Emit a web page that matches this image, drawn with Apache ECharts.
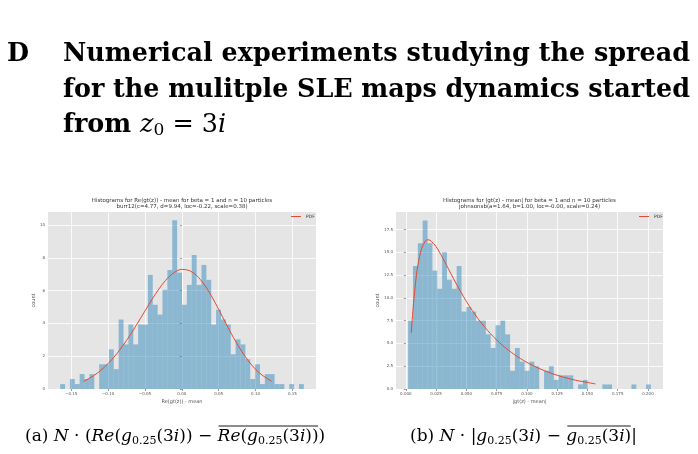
<!DOCTYPE html>
<html><head><meta charset="utf-8">
<script src="https://cdn.jsdelivr.net/npm/echarts@6/dist/echarts.min.js"></script>
<style>html,body{margin:0;padding:0;background:#fff}#c{width:698px;height:454px}</style>
</head><body><div id="c"></div>
<script>
// ---------- data ----------
const headingLetter = 'D';
const headingLines = ['Numerical experiments studying the spread', 'for the mulitple SLE maps dynamics started'];
const reTitle = ['Histograms for Re(gt(z)) - mean for beta = 1 and n = 10 particles', 'burr12(c=4.77, d=9.94, loc=-0.22, scale=0.38)'];
const absTitle = ['Histograms for |gt(z) - mean| for beta = 1 and n = 10 particles', 'johnsonsb(a=1.64, b=1.00, loc=-0.00, scale=0.24)'];
const reXName = 'Re(gt(z)) - mean';
const absXName = '|gt(z) - mean|';
const yName = 'count';
const legendName = 'PDF';

const reBinStart = -0.165;
const reBinWidth = 0.00661;
const reDensity = [0.30,0,0.61,0.30,0.91,0.61,0.91,0,1.51,1.51,2.42,1.21,4.24,2.72,3.93,2.72,3.93,3.93,6.96,5.14,4.54,6.05,7.26,10.29,7.10,5.14,6.35,8.17,6.35,7.57,6.66,3.93,4.84,4.24,3.93,2.12,3.03,2.72,1.82,0.61,1.51,0.30,0.91,0.91,0.30,0.30,0,0.30,0,0.30];
const rePdfX = [-0.1335,-0.13,-0.12,-0.11,-0.10,-0.09,-0.08,-0.07,-0.06,-0.05,-0.04,-0.03,-0.02,-0.01,0,0.01,0.02,0.03,0.04,0.05,0.06,0.07,0.08,0.09,0.10,0.11,0.12,0.122];
const rePdfY = [0.47,0.54,0.80,1.13,1.55,2.05,2.64,3.30,4.02,4.76,5.50,6.17,6.73,7.12,7.30,7.23,6.93,6.40,5.69,4.86,3.99,3.14,2.38,1.73,1.20,0.81,0.52,0.47];
const reTicksX = [-0.15,-0.10,-0.05,0,0.05,0.10,0.15];
const reTicksY = [0,2,4,6,8,10];

const absBinStart = 0.0019;
const absBinWidth = 0.00401;
const absDensity = [7.5,13.5,16,18.5,16,13,11,15,12,11,13.5,8.5,9,8.5,7.5,7.5,6,4.5,7,7.5,6,2,4.5,3,2,3,2.5,0,2,2.5,1,1.5,1.5,1.5,0,0.5,1,0,0,0,0.5,0.5,0,0,0,0,0.5,0,0,0.5];
const absPdfX = [0.0045,0.006,0.008,0.010,0.013,0.016,0.018,0.020,0.025,0.030,0.035,0.040,0.050,0.060,0.070,0.080,0.090,0.100,0.110,0.120,0.130,0.140,0.1566];
const absPdfY = [6.17,8.80,11.61,13.61,15.41,16.22,16.38,16.33,15.62,14.50,13.24,11.96,9.62,7.66,6.06,4.78,3.75,2.92,2.26,1.73,1.31,0.97,0.56];
const absTicksX = [0,0.025,0.05,0.075,0.1,0.125,0.15,0.175,0.2];
const absTicksY = [0,2.5,5,7.5,10,12.5,15,17.5];

// caption pieces: [prefix, overlined part, suffix] as rich-text segments
const capA = [
  [['n','(a) '],['i','N'],['n',' · ('],['i','Re'],['n','('],['i','g'],['s','0.25'],['n','(3'],['i','i'],['n',')) − ']],
  [['i','Re'],['n','('],['i','g'],['s','0.25'],['n','(3'],['i','i'],['n','))']],
  [['n',')']]
];
const capB = [
  [['n','(b) '],['i','N'],['n',' · |'],['i','g'],['s','0.25'],['n','(3'],['i','i'],['n',') − ']],
  [['i','g'],['s','0.25'],['n','(3'],['i','i'],['n',')']],
  [['n','|']]
];

// ---------- build ----------
const barFill = 'rgba(52,138,189,0.5)';
const pdfColor = '#E24A33';
function binData(start, width, dens) {
  const out = [];
  dens.forEach((h, i) => { if (h > 0) out.push([start + i * width, start + (i + 1) * width, h]); });
  return out;
}
function renderBar(params, api) {
  const p0 = api.coord([api.value(0), 0]);
  const p1 = api.coord([api.value(1), api.value(2)]);
  return { type: 'rect', shape: { x: p0[0], y: p1[1], width: p1[0] - p0[0], height: p0[1] - p1[1] }, style: { fill: barFill } };
}
const tickFont = { fontSize: 4, color: '#555', fontFamily: 'DejaVu Sans' };
function xAxis(idx, min, max, ticks, fmt, name) {
  return { type: 'value', gridIndex: idx, min: min, max: max,
    name: name, nameLocation: 'middle', nameGap: 10, nameTextStyle: { fontSize: 5, color: '#555', fontFamily: 'DejaVu Sans' },
    axisLine: { show: false },
    axisTick: { show: true, length: 2, lineStyle: { color: '#555', width: 0.6 }, customValues: ticks },
    axisLabel: Object.assign({ margin: 3, formatter: fmt, customValues: ticks }, tickFont),
    splitLine: { show: true, lineStyle: { color: '#fff', width: 0.8 } } };
}
function yAxis(idx, max, ticks, fmt, gap) {
  return { type: 'value', gridIndex: idx, min: 0, max: max,
    name: yName, nameLocation: 'middle', nameGap: gap, nameRotate: 90, nameTextStyle: { fontSize: 5, color: '#555', fontFamily: 'DejaVu Sans' },
    axisLine: { show: false },
    axisTick: { show: true, length: 2, lineStyle: { color: '#555', width: 0.6 }, customValues: ticks },
    axisLabel: Object.assign({ margin: 3, formatter: fmt, customValues: ticks }, tickFont),
    splitLine: { show: true, lineStyle: { color: '#fff', width: 0.8 } } };
}
const pts = (xs, ys) => xs.map((x, i) => [x, ys[i]]);

// text measurement
const mctx = document.createElement('canvas').getContext('2d');
function textW(font, s) { mctx.font = font; return mctx.measureText(s).width; }

const serif = '"DejaVu Serif"';
const headX0 = 63, headX1 = 690;
const headSize = 27 * (headX1 - headX0) / textW('bold 27px ' + serif, headingLines[0]);
const headFont = 'bold ' + headSize.toFixed(2) + 'px ' + serif;

function justified(line, y) {
  const words = line.split(' ');
  const ws = words.map(w => textW(headFont, w));
  const total = ws.reduce((a, b) => a + b, 0);
  const gap = (headX1 - headX0 - total) / (words.length - 1);
  let x = headX0;
  return words.map((w, i) => {
    const el = { type: 'text', x: x, y: y, style: { text: w, font: headFont, fill: '#000', verticalAlign: 'middle' } };
    x += ws[i] + gap;
    return el;
  });
}

const capSize = 17;
const capStyles = {
  n: { fontFamily: serif, fontSize: capSize, color: '#000' },
  i: { fontFamily: serif, fontSize: capSize, fontStyle: 'italic', color: '#000' },
  s: { fontFamily: serif, fontSize: 11, color: '#000', padding: [8, 0, 0, 0] }
};
const cssFont = k => (capStyles[k].fontStyle || '') + ' ' + capStyles[k].fontSize + 'px ' + capStyles[k].fontFamily;
const segText = segs => segs.map(s => '{' + s[0] + '|' + s[1] + '}').join('');
const segWidth = segs => segs.reduce((a, s) => a + textW(cssFont(s[0]), s[1]), 0);
function caption(parts, x0, y) {
  const w0 = segWidth(parts[0]), w1 = segWidth(parts[1]);
  return [
    { type: 'text', x: x0, y: y, style: { text: segText(parts[0]), rich: capStyles, verticalAlign: 'middle' } },
    { type: 'text', x: x0 + w0, y: y, style: { text: segText(parts[1]), rich: capStyles, verticalAlign: 'middle' } },
    { type: 'text', x: x0 + w0 + w1, y: y, style: { text: segText(parts[2]), rich: capStyles, verticalAlign: 'middle' } },
    { type: 'line', shape: { x1: x0 + w0 + 1, y1: y - 11, x2: x0 + w0 + w1 - 0.5, y2: y - 11 }, style: { stroke: '#000', lineWidth: 0.9 } }
  ];
}

const titleFont = '5.5px "DejaVu Sans"';
const legendCommon = { itemWidth: 10, itemHeight: 4, icon: 'path://M0,0L10,0L10,1L0,1Z', data: [legendName],
  textStyle: { fontSize: 4.5, color: '#333', fontFamily: 'DejaVu Sans' }, itemGap: 2, padding: 0 };

const option = {
  backgroundColor: '#fff',
  animation: false,
  grid: [
    { left: 48, top: 212, width: 268, height: 177, backgroundColor: '#E5E5E5', show: true, borderWidth: 0 },
    { left: 396, top: 212, width: 267, height: 177, backgroundColor: '#E5E5E5', show: true, borderWidth: 0 }
  ],
  xAxis: [
    xAxis(0, -0.1815, 0.182, reTicksX, v => (v < -1e-9 ? '\u2212' : '') + Math.abs(v).toFixed(2), reXName),
    xAxis(1, -0.0081, 0.2124, absTicksX, v => Math.abs(v).toFixed(3), absXName)
  ],
  yAxis: [
    yAxis(0, 10.8, reTicksY, v => String(Math.round(v)), 11),
    yAxis(1, 19.43, absTicksY, v => v.toFixed(1), 15)
  ],
  legend: [
    Object.assign({ left: 291, top: 214 }, legendCommon),
    Object.assign({ left: 639, top: 214 }, legendCommon)
  ],
  series: [
    { type: 'custom', name: 'reHist', xAxisIndex: 0, yAxisIndex: 0, data: binData(reBinStart, reBinWidth, reDensity), renderItem: renderBar, encode: { x: [0, 1], y: 2 }, silent: true, z: 2 },
    { type: 'line', name: legendName, xAxisIndex: 0, yAxisIndex: 0, data: pts(rePdfX, rePdfY), showSymbol: false, smooth: 0.3, color: pdfColor, lineStyle: { color: pdfColor, width: 1 }, z: 3 },
    { type: 'custom', name: 'absHist', xAxisIndex: 1, yAxisIndex: 1, data: binData(absBinStart, absBinWidth, absDensity), renderItem: renderBar, encode: { x: [0, 1], y: 2 }, silent: true, z: 2 },
    { type: 'line', name: legendName, xAxisIndex: 1, yAxisIndex: 1, data: pts(absPdfX, absPdfY), showSymbol: false, smooth: 0.3, color: pdfColor, lineStyle: { color: pdfColor, width: 1 }, z: 3 }
  ],
  graphic: [].concat(
    [{ type: 'text', x: 7, y: 54, style: { text: headingLetter, font: headFont, fill: '#000', verticalAlign: 'middle' } }],
    justified(headingLines[0], 54),
    justified(headingLines[1], 90),
    [{ type: 'text', x: headX0, y: 125, style: { text: '{b|from }{m|z}{s|0}{e| = 3}{m|i}', verticalAlign: 'middle',
      rich: { b: { fontFamily: serif, fontWeight: 'bold', fontSize: headSize, color: '#000' },
              m: { fontFamily: serif, fontStyle: 'italic', fontSize: headSize, color: '#000' },
              e: { fontFamily: serif, fontSize: headSize, color: '#000' },
              s: { fontFamily: serif, fontSize: 17, color: '#000', padding: [12, 0, 0, 0] } } } },
     { type: 'text', x: 182, y: 200.5, style: { text: reTitle[0], font: titleFont, fill: '#333', align: 'center', verticalAlign: 'middle' } },
     { type: 'text', x: 182, y: 207, style: { text: reTitle[1], font: titleFont, fill: '#333', align: 'center', verticalAlign: 'middle' } },
     { type: 'text', x: 529.5, y: 200.5, style: { text: absTitle[0], font: titleFont, fill: '#333', align: 'center', verticalAlign: 'middle' } },
     { type: 'text', x: 529.5, y: 207, style: { text: absTitle[1], font: titleFont, fill: '#333', align: 'center', verticalAlign: 'middle' } }],
    caption(capA, 25, 437),
    caption(capB, 410, 437)
  )
};
const chart = echarts.init(document.getElementById('c'), null, { renderer: 'canvas' });
chart.setOption(option);
</script></body></html>
